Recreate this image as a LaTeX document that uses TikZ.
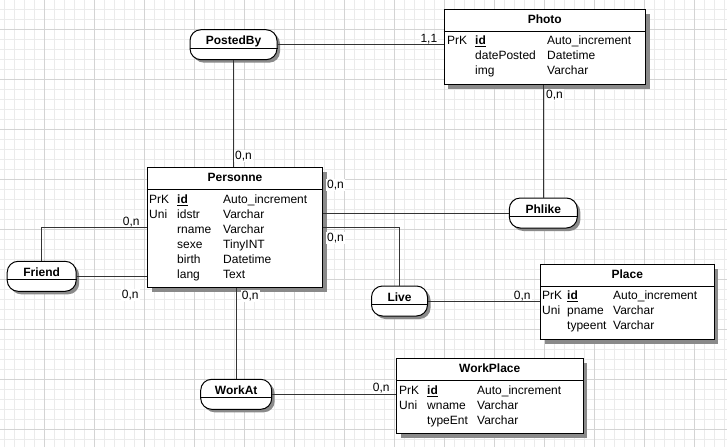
\documentclass[tikz,border=0pt]{standalone}
\usepackage{fontspec}
\setmainfont{Liberation Sans}
\usetikzlibrary{shadows}
\definecolor{gridlight}{HTML}{EBEBEB}
\definecolor{griddark}{HTML}{D4D4D4}
\definecolor{shade}{HTML}{8A8A8A}
\tikzset{
  every node/.style={font=\fontsize{12}{14}\selectfont},
  entity/.style={draw, fill=white, line width=1pt, anchor=north west,
    general shadow={fill=shade, shadow xshift=4pt, shadow yshift=-4pt}},
  relation/.style={draw, fill=white, line width=1pt, rounded corners=11pt,
    minimum height=30, general shadow={fill=shade, shadow xshift=3pt, shadow yshift=-3pt}},
  title/.style={font=\fontsize{12}{14}\selectfont\bfseries, anchor=base, inner sep=0},
  attr/.style={anchor=base west, inner sep=0},
  card/.style={anchor=base west, fill=white, inner sep=1pt},
  rule/.style={line width=1pt},
  link/.style={line width=1pt, black!80}
}

\begin{document}
\begin{tikzpicture}[x=1pt, y=-1pt]
    \useasboundingbox (0,0) rectangle (727,447);
    \fill[white] (0,0) rectangle (727,447);
    \foreach \x in {4,14,...,724} \draw[gridlight] (\x,0) -- (\x,447);
    \foreach \y in {9,19,...,439} \draw[gridlight] (0,\y) -- (727,\y);
    \foreach \x in {44,94,...,694} \draw[griddark] (\x,0) -- (\x,447);
    \foreach \y in {29,79,...,429} \draw[griddark] (0,\y) -- (727,\y);

    % entities
    \node[entity, minimum width=175, minimum height=120] (pers) at (147,167) {};
    \node[entity, minimum width=201.5, minimum height=75] (photo) at (443.5,9) {};
    \node[entity, minimum width=173.5, minimum height=75] (place) at (540,264) {};
    \node[entity, minimum width=186.5, minimum height=75] (wplace) at (396,358.3) {};
    \foreach \e in {pers,photo,place,wplace}
      \draw[rule] ([yshift=-22pt]\e.north west) -- ([yshift=-22pt]\e.north east);

    \node[title] (pers-t) at ([yshift=-14pt]pers.north) {Personne};
    \node[title] (photo-t) at ([yshift=-14.3pt]photo.north) {Photo};
    \node[title] (place-t) at ([yshift=-14.3pt]place.north) {Place};
    \node[title] (wplace-t) at ([yshift=-14pt]wplace.north) {WorkPlace};

    \foreach \k/\n/\t [count=\i] in {PrK/\underline{\textbf{id}}/Auto\_increment,
        Uni/idstr/Varchar, {}/rname/Varchar, {}/sexe/TinyINT, {}/birth/Datetime, {}/lang/Text} {
      \node[attr] (pers-k\i) at (149,188.3+15*\i) {\k};
      \node[attr] (pers-n\i) at (177,188.3+15*\i) {\n};
      \node[attr] (pers-v\i) at (223,188.3+15*\i) {\t};
    }
    \foreach \k/\n/\t [count=\i] in {PrK/\underline{\textbf{id}}/Auto\_increment,
        {}/datePosted/Datetime, {}/img/Varchar} {
      \node[attr] (photo-k\i) at (447,29.3+15*\i) {\k};
      \node[attr] (photo-n\i) at (475,29.3+15*\i) {\n};
      \node[attr] (photo-v\i) at (547,29.3+15*\i) {\t};
    }
    \foreach \k/\n/\t [count=\i] in {PrK/\underline{\textbf{id}}/Auto\_increment,
        Uni/pname/Varchar, {}/typeent/Varchar} {
      \node[attr] (place-k\i) at (542,284.3+15*\i) {\k};
      \node[attr] (place-n\i) at (567,284.3+15*\i) {\n};
      \node[attr] (place-v\i) at (613,284.3+15*\i) {\t};
    }
    \foreach \k/\n/\t [count=\i] in {PrK/\underline{\textbf{id}}/Auto\_increment,
        Uni/wname/Varchar, {}/typeEnt/Varchar} {
      \node[attr] (wplace-k\i) at (399,379.3+15*\i) {\k};
      \node[attr] (wplace-n\i) at (427,379.3+15*\i) {\n};
      \node[attr] (wplace-v\i) at (477,379.3+15*\i) {\t};
    }

    % relations
    \node[relation, minimum width=87] (posted) at (233.5,44.7) {};
    \node[relation, minimum width=69] (friend) at (41.7,276.3) {};
    \node[relation, minimum width=68] (phlike) at (543.3,213) {};
    \node[relation, minimum width=56] (live) at (399.5,301) {};
    \node[relation, minimum width=71] (workat) at (236.2,394.3) {};
    \foreach \r in {posted,friend,phlike,live,workat}
      \draw[rule] ([yshift=-3.5pt]\r.west) -- ([yshift=-3.5pt]\r.east);
    \node[title] (posted-t) at (posted.center) {PostedBy};
    \node[title] (friend-t) at (friend.center) {Friend};
    \node[title] (phlike-t) at (phlike.center) {Phlike};
    \node[title] (live-t) at (live.center) {Live};
    \node[title] (workat-t) at (workat.center) {WorkAt};

    % cardinalities
    \node[card] (c1) at (419.3,42.7) {1,1};
    \node[card] (c2) at (234,159.3) {0,n};
    \node[card] (c3) at (545,98.3) {0,n};
    \node[card] (c4) at (326,188.3) {0,n};
    \node[card] (c5) at (326,241.7) {0,n};
    \node[card] (c6) at (512.7,299.3) {0,n};
    \node[card] (c7) at (121.7,225) {0,n};
    \node[card] (c8) at (120.7,298.3) {0,n};
    \node[card] (c9) at (240.7,299.3) {0,n};
    \node[card] (c10) at (371.7,391.7) {0,n};

    % links
    \draw[link] (posted.east) -- (posted.east -| photo.west);
    \draw[link] (posted.south) -- (posted.south |- pers.north);
    \draw[link] (phlike.north) -- (phlike.north |- photo.south);
    \draw[link] (phlike.west) -- (phlike.west -| pers.east);
    \draw[link] (live.north) |- (pers.east);
    \draw[link] (live.east) -- (live.east -| place.west);
    \draw[link] (friend.north) |- (pers.west);
    \draw[link] (friend.east) -- (friend.east -| pers.west);
    \draw[link] (workat.north) -- (workat.north |- pers.south);
    \draw[link] (workat.east) -- (workat.east -| wplace.west);
\end{tikzpicture}
\end{document}
